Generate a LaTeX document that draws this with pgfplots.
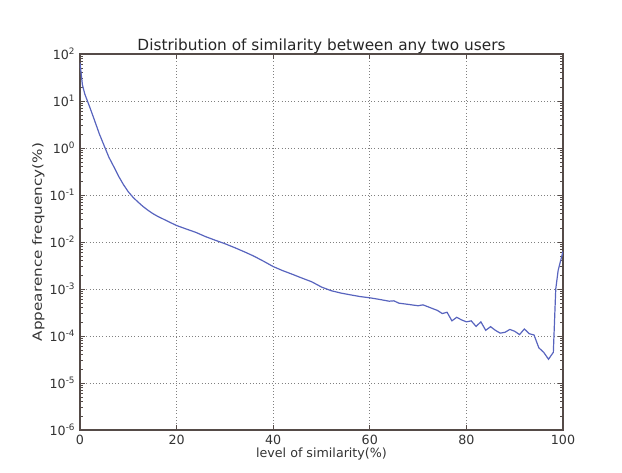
\documentclass[border=0pt]{standalone}
\usepackage{pgfplots}
\pgfplotsset{compat=1.18}
\usepackage{fontspec}
\setmainfont{DejaVu Sans}
\definecolor{lineblue}{RGB}{88,100,190}
\definecolor{axisgray}{RGB}{85,75,72}
\begin{document}
\begin{tikzpicture}
\useasboundingbox (-60pt,-32.25pt) rectangle (406.5pt,322.5pt);
\begin{axis}[
  at={(0,0)}, anchor=south west,
  scale only axis,
  width=362.25pt, height=282pt,
  xmin=0, xmax=100,
  ymode=log, ymin=1e-6, ymax=1e2,
  xtick={0,20,40,60,80,100},
  ytick={1e-6,1e-5,1e-4,1e-3,1e-2,1e-1,1e0,1e1,1e2},
  yticklabels={10\textsuperscript{-6},10\textsuperscript{-5},10\textsuperscript{-4},10\textsuperscript{-3},10\textsuperscript{-2},10\textsuperscript{-1},10\textsuperscript{0},10\textsuperscript{1},10\textsuperscript{2}},
  /pgf/number format/assume math mode=true,
  tick label style={font=\fontsize{9.5}{11}\selectfont, text=black!80},
  label style={font=\fontsize{9.5}{11}\selectfont, text=black!80},
  title style={font=\fontsize{11.5}{13}\selectfont, text=black!85, yshift=-9pt},
  title={Distribution of similarity between any two users},
  xlabel={level of similarity(\%)},
  ylabel={\scalebox{1.2}[1.0]{Appearence frequency(\%)}},
  xlabel style={yshift=4pt},
  ylabel style={yshift=-3pt},
  grid=major,
  major grid style={dotted, black!50, line width=0.6pt},
  axis line style={line width=1pt, axisgray},
  tick style={axisgray, line width=0.5pt},
  major tick length=4pt,
  minor tick length=2pt,
  tick align=inside,
  xminorticks=false,
]
\addplot[lineblue, line width=0.9pt] coordinates {
(0,65) (0.5,22) (1,14) (2,7.5) (3,3.9) (4,2.0) (5,1.12) (6,0.63) (7,0.40) (8,0.25) (9,0.166) (10,0.117)
(11,0.089) (12,0.071) (13,0.0575) (14,0.0479) (15,0.0407) (16,0.0355) (17,0.0316) (18,0.0282) (19,0.0251) (20,0.0224)
(22,0.0189) (24,0.0160) (26,0.0130) (28,0.0109) (30,0.0092) (32,0.0076) (34,0.0062) (36,0.0050) (38,0.0039) (40,0.0030)
(42,0.00245) (44,0.00205) (46,0.00170) (48,0.00142) (50,0.00110) (52,0.00092) (54,0.00082) (56,0.00075) (58,0.00069) (60,0.00065)
(62,0.00060) (64,0.00055) (65,0.00056) (66,0.00050) (68,0.00047) (70,0.00044) (71,0.00046) (72,0.00042) (74,0.00035)
(75,0.00030) (76,0.00032) (77,0.00021) (78,0.00025) (79,0.00022) (80,0.00020) (81,0.00021) (82,0.00016) (83,0.00020)
(84,0.000132) (85,0.000158) (86,0.000132) (87,0.000115) (88,0.000120) (89,0.000138) (90,0.000126) (91,0.000107)
(92,0.000141) (93,0.000112) (94,0.000105) (95,0.000056) (96,0.000045) (97,0.000032) (98,0.000045) (98.5,0.0010) (99,0.0025) (100,0.0063)
};
\end{axis}
\end{tikzpicture}
\end{document}
